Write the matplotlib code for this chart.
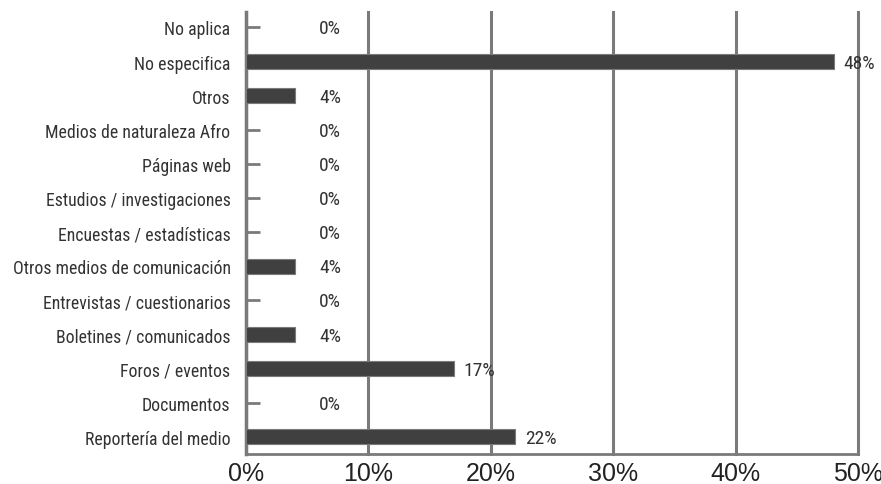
import matplotlib.pyplot as plt
from matplotlib import font_manager

categorias = ['Reportería del medio', 'Documentos', 'Foros / eventos',
              'Boletines / comunicados', 'Entrevistas / cuestionarios',
              'Otros medios de comunicación', 'Encuestas / estadísticas',
              'Estudios / investigaciones', 'Páginas web',
              'Medios de naturaleza Afro', 'Otros', 'No especifica', 'No aplica']
valores = [22, 0, 17, 4, 0, 4, 0, 0, 0, 0, 4, 48, 0]
ticks_x = [0, 10, 20, 30, 40, 50]

# fuente condensada, la primera que exista
instaladas = {f.name for f in font_manager.fontManager.ttflist}
preferidas = ['Roboto Condensed', 'Archivo Narrow', 'PT Sans Narrow',
              'Liberation Sans Narrow', 'Encode Sans Condensed', 'Liberation Sans']
fuente = next(f for f in preferidas if f in instaladas)
plt.rcParams['font.family'] = [fuente, 'DejaVu Sans']

fig = plt.figure(figsize=(8.81, 4.85), dpi=100)
ax = fig.add_axes([0.279, 0.062, 0.695, 0.911])

gris = '#7a7a7a'
y = list(range(len(categorias)))
ax.barh(y, valores, height=0.44, color='#404040', edgecolor=gris, linewidth=0.8, zorder=3)

# marcas cortas para los valores en cero
ceros = [i for i, v in zip(y, valores) if v == 0]
ax.hlines(ceros, 0, 1.2, color=gris, linewidth=2, zorder=3)

for i, v in zip(y, valores):
    ax.text(max(v + 0.8, 6), i - 0.03, f'{v}%', va='center', ha='left',
            fontsize=14, color='#333333', zorder=4, clip_on=False)

ax.set_xlim(0, 50)
ax.set_ylim(-0.5, 12.45)
ax.set_xticks(ticks_x)
ax.set_xticklabels([f'{t}%' for t in ticks_x], fontsize=18,
                   family=['Liberation Sans', 'DejaVu Sans'], color='#222222')
ax.set_yticks(y)
ax.set_yticklabels(categorias, fontsize=12.8, color='#333333')
ax.tick_params(length=0, pad=11, axis='y')
ax.tick_params(length=0, pad=5, axis='x')

ax.grid(axis='x', color=gris, linewidth=2.2, zorder=0)
for g in ax.get_xgridlines():
    g.set_clip_on(False)
for s in ['top', 'right']:
    ax.spines[s].set_visible(False)
ax.spines['left'].set_color(gris)
ax.spines['left'].set_linewidth(2.5)
ax.spines['bottom'].set_color(gris)
ax.spines['bottom'].set_linewidth(2)

plt.savefig('out.png')
